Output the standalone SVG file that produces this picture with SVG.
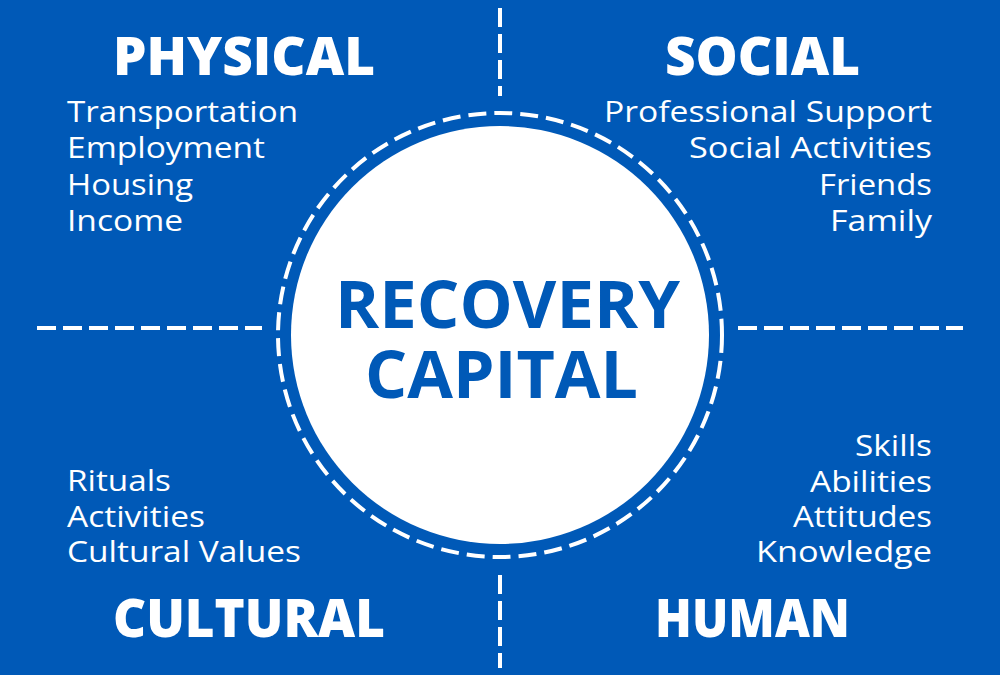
<svg xmlns="http://www.w3.org/2000/svg" width="1000" height="675" viewBox="0 0 1000 675">
<style>
.bg{fill:#0059B7}
.dash{stroke:#fff;stroke-width:4;fill:none;stroke-dasharray:19 7}
.ring{stroke:#fff;stroke-width:4;fill:none;stroke-dasharray:18 8}
.title{font-family:"Open Sans","Liberation Sans",sans-serif;font-weight:800;font-size:53px;fill:#fff}
.item{font-family:"Open Sans","Liberation Sans",sans-serif;font-weight:400;font-size:29px;fill:#fff}
.center{font-family:"Open Sans","Liberation Sans",sans-serif;font-weight:700;font-size:67px;fill:#0059B7}
</style>
<rect class="bg" x="0" y="0" width="1000" height="675"/>
<g id="connectors">
<line class="dash" x1="500" y1="8" x2="500" y2="96"/>
<line class="dash" x1="500" y1="575" x2="500" y2="668"/>
<line class="dash" x1="37" y1="328" x2="262" y2="328"/>
<line class="dash" x1="738" y1="328" x2="963" y2="328"/>
</g>
<g id="center">
<circle class="ring" cx="500" cy="335" r="222"/>
<circle cx="500" cy="335" r="209" fill="#fff"/>
<text class="center" x="335" y="328" textLength="345" lengthAdjust="spacingAndGlyphs">RECOVERY</text>
<text class="center" x="365" y="398" textLength="273" lengthAdjust="spacingAndGlyphs">CAPITAL</text>
</g>
<g id="physical">
<text class="title" x="113" y="75" textLength="262" lengthAdjust="spacingAndGlyphs">PHYSICAL</text>
<text class="item" x="67" y="122" textLength="231" lengthAdjust="spacingAndGlyphs">Transportation</text>
<text class="item" x="67" y="158" textLength="198" lengthAdjust="spacingAndGlyphs">Employment</text>
<text class="item" x="67" y="194.5" textLength="126" lengthAdjust="spacingAndGlyphs">Housing</text>
<text class="item" x="67" y="231" textLength="116" lengthAdjust="spacingAndGlyphs">Income</text>
</g>
<g id="social">
<text class="title" x="665" y="75" textLength="195" lengthAdjust="spacingAndGlyphs">SOCIAL</text>
<text class="item" x="604" y="122" textLength="328" lengthAdjust="spacingAndGlyphs">Professional Support</text>
<text class="item" x="689" y="158" textLength="243" lengthAdjust="spacingAndGlyphs">Social Activities</text>
<text class="item" x="819" y="194.5" textLength="113" lengthAdjust="spacingAndGlyphs">Friends</text>
<text class="item" x="830" y="231" textLength="102" lengthAdjust="spacingAndGlyphs">Family</text>
</g>
<g id="cultural">
<text class="item" x="67" y="491" textLength="104" lengthAdjust="spacingAndGlyphs">Rituals</text>
<text class="item" x="67" y="527" textLength="138" lengthAdjust="spacingAndGlyphs">Activities</text>
<text class="item" x="67" y="562" textLength="234" lengthAdjust="spacingAndGlyphs">Cultural Values</text>
<text class="title" x="113" y="637" textLength="272" lengthAdjust="spacingAndGlyphs">CULTURAL</text>
</g>
<g id="human">
<text class="item" x="855" y="456" textLength="77" lengthAdjust="spacingAndGlyphs">Skills</text>
<text class="item" x="810" y="492" textLength="122" lengthAdjust="spacingAndGlyphs">Abilities</text>
<text class="item" x="793" y="527" textLength="139" lengthAdjust="spacingAndGlyphs">Attitudes</text>
<text class="item" x="756" y="562" textLength="176" lengthAdjust="spacingAndGlyphs">Knowledge</text>
<text class="title" x="655" y="637" textLength="195" lengthAdjust="spacingAndGlyphs">HUMAN</text>
</g>
</svg>
